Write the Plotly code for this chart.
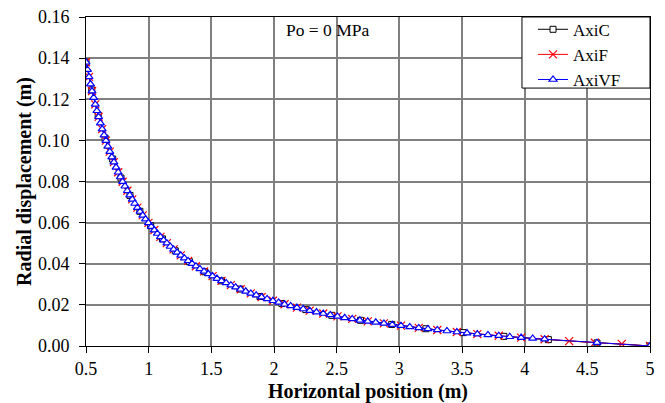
import plotly.graph_objects as go

# ---- data ----
axic_x = [0.500, 0.546, 0.597, 0.652, 0.713, 0.779, 0.851, 0.930, 1.016, 1.110,
          1.212, 1.325, 1.447, 1.581, 1.728, 1.888, 2.063, 2.254, 2.462, 2.690,
          2.939, 3.212, 3.509, 3.834, 4.189, 4.577, 5.000]
axic_y = [0.1380, 0.1245, 0.1123, 0.1011, 0.0909, 0.0817, 0.0732, 0.0655, 0.0585, 0.0521,
          0.0463, 0.0410, 0.0361, 0.0317, 0.0277, 0.0241, 0.0207, 0.0177, 0.0149, 0.0125,
          0.0105, 0.0084, 0.0065, 0.0047, 0.0031, 0.0015, 0.0000]

axif_x = [0.500, 0.524, 0.548, 0.574, 0.601, 0.629, 0.659, 0.690, 0.723, 0.757,
          0.792, 0.830, 0.869, 0.910, 0.953, 0.998, 1.045, 1.094, 1.145, 1.199,
          1.256, 1.315, 1.377, 1.442, 1.510, 1.581, 1.656, 1.734, 1.815, 1.901,
          1.991, 2.084, 2.183, 2.285, 2.393, 2.506, 2.624, 2.748, 2.877, 3.013,
          3.155, 3.303, 3.459, 3.622, 3.793, 3.972, 4.159, 4.355, 4.560, 4.775,
          5.000]
axif_y = [0.1380, 0.1309, 0.1240, 0.1175, 0.1114, 0.1055, 0.0999, 0.0945, 0.0894, 0.0845,
          0.0799, 0.0755, 0.0713, 0.0673, 0.0635, 0.0599, 0.0564, 0.0531, 0.0500, 0.0470,
          0.0441, 0.0414, 0.0388, 0.0363, 0.0340, 0.0317, 0.0296, 0.0276, 0.0256, 0.0238,
          0.0220, 0.0203, 0.0187, 0.0172, 0.0158, 0.0144, 0.0132, 0.0120, 0.0110, 0.0099,
          0.0088, 0.0078, 0.0068, 0.0058, 0.0050, 0.0041, 0.0033, 0.0024, 0.0016, 0.0010,
          0.0000]

axivf_x = [0.500, 0.512, 0.524, 0.536, 0.548, 0.561, 0.574, 0.587, 0.601, 0.615,
           0.629, 0.644, 0.659, 0.674, 0.690, 0.706, 0.723, 0.740, 0.757, 0.774,
           0.792, 0.811, 0.830, 0.849, 0.869, 0.889, 0.910, 0.931, 0.953, 0.975,
           0.998, 1.021, 1.045, 1.069, 1.094, 1.119, 1.145, 1.172, 1.199, 1.227,
           1.256, 1.285, 1.315, 1.346, 1.377, 1.409, 1.442, 1.476, 1.510, 1.545,
           1.581, 1.618, 1.656, 1.694, 1.734, 1.774, 1.815, 1.858, 1.901, 1.945,
           1.991, 2.037, 2.084, 2.133, 2.183, 2.233, 2.285, 2.339, 2.393, 2.449,
           2.506, 2.564, 2.624, 2.685, 2.748, 2.812, 2.877, 2.944, 3.013, 3.083,
           3.155, 3.228, 3.303, 3.380, 3.459, 3.540, 3.622, 3.707, 3.793, 3.881,
           3.972, 4.064, 4.159, 4.577, 5.000]
axivf_y = [0.1380, 0.1344, 0.1309, 0.1274, 0.1240, 0.1208, 0.1175, 0.1144, 0.1114, 0.1084,
           0.1055, 0.1026, 0.0999, 0.0971, 0.0945, 0.0919, 0.0894, 0.0869, 0.0845, 0.0822,
           0.0799, 0.0777, 0.0755, 0.0734, 0.0713, 0.0693, 0.0673, 0.0654, 0.0635, 0.0617,
           0.0599, 0.0581, 0.0564, 0.0547, 0.0531, 0.0515, 0.0500, 0.0484, 0.0470, 0.0455,
           0.0441, 0.0427, 0.0414, 0.0401, 0.0388, 0.0375, 0.0363, 0.0351, 0.0340, 0.0328,
           0.0317, 0.0307, 0.0296, 0.0286, 0.0276, 0.0266, 0.0256, 0.0247, 0.0238, 0.0229,
           0.0220, 0.0212, 0.0203, 0.0195, 0.0187, 0.0180, 0.0172, 0.0165, 0.0158, 0.0151,
           0.0144, 0.0137, 0.0132, 0.0125, 0.0120, 0.0115, 0.0110, 0.0104, 0.0099, 0.0093,
           0.0088, 0.0083, 0.0078, 0.0073, 0.0068, 0.0063, 0.0058, 0.0054, 0.0050, 0.0045,
           0.0041, 0.0037, 0.0033, 0.0016, 0.0000]

series_names = ["AxiC", "AxiF", "AxiVF"]
x_ticks = [0.5, 1, 1.5, 2, 2.5, 3, 3.5, 4, 4.5, 5]
y_ticks = [0.00, 0.02, 0.04, 0.06, 0.08, 0.10, 0.12, 0.14, 0.16]
note_text = "Po = 0 MPa"

FONT = "Liberation Serif, Times New Roman, serif"

fig = go.Figure()
fig.add_trace(go.Scatter(
    x=axic_x, y=axic_y, name=series_names[0], mode="lines+markers",
    line=dict(color="black", width=1),
    marker=dict(symbol="square", size=6, color="white",
                line=dict(color="black", width=1))))
fig.add_trace(go.Scatter(
    x=axif_x, y=axif_y, name=series_names[1], mode="lines+markers",
    line=dict(color="red", width=1),
    marker=dict(symbol="x-thin-open", size=8, color="red",
                line=dict(color="red", width=1.2))))
fig.add_trace(go.Scatter(
    x=axivf_x, y=axivf_y, name=series_names[2], mode="lines+markers",
    line=dict(color="blue", width=1),
    marker=dict(symbol="triangle-up", size=7, color="white",
                line=dict(color="blue", width=1.2))))

shapes = [dict(type="line", xref="x", yref="y", x0=v, x1=v, y0=0, y1=0.16,
               line=dict(color="black", width=1), layer="below")
          for v in (2, 3.5)]
# legend frame
shapes.append(dict(type="rect", xref="paper", yref="paper",
                   x0=0.773, x1=1.0, y0=0.784, y1=1.0,
                   line=dict(color="black", width=1), fillcolor="white",
                   layer="above"))

fig.update_layout(
    width=665, height=403,
    margin=dict(l=86, r=15, t=17, b=57, autoexpand=False),
    paper_bgcolor="white", plot_bgcolor="white",
    font=dict(family=FONT, size=18, color="black"),
    legend=dict(x=0.7926, y=1.016, xanchor="left", yanchor="top",
                bgcolor="rgba(0,0,0,0)", borderwidth=0,
                font=dict(family=FONT, size=17, color="black"),
                itemwidth=30, tracegroupgap=0),
    annotations=[dict(text=note_text, x=2.08, y=0.1535, xref="x", yref="y",
                      xanchor="left", yanchor="middle", showarrow=False,
                      font=dict(family=FONT, size=17.5, color="black"))],
    shapes=shapes,
)

fig.update_xaxes(
    range=[0.5, 5], tickmode="array", tickvals=x_ticks,
    ticktext=[f"{v:g}" for v in x_ticks], automargin=False,
    showgrid=True, gridcolor="rgb(128,128,128)", gridwidth=2,
    zeroline=False, showline=True, linecolor="black", linewidth=1, mirror=True,
    ticks="outside", ticklen=6, tickcolor="black", tickwidth=1,
    tickfont=dict(family=FONT, size=18, color="black"),
    title=dict(text="Horizontal position (m)", standoff=9,
               font=dict(family=FONT, size=20, color="black", weight="bold")))
fig.update_yaxes(
    range=[0, 0.16], tickmode="array", tickvals=y_ticks,
    ticktext=[f"{v:.2f}" for v in y_ticks], automargin=False,
    ticklabelstandoff=6,
    showgrid=True, gridcolor="rgb(128,128,128)", gridwidth=2,
    zeroline=False, showline=True, linecolor="black", linewidth=1, mirror=True,
    ticks="outside", ticklen=6, tickcolor="black", tickwidth=1,
    tickfont=dict(family=FONT, size=18, color="black"),
    title=dict(text="Radial displacement (m)", standoff=0,
               font=dict(family=FONT, size=20, color="black", weight="bold")))

fig.write_html(
    "out.html",
    config={"displayModeBar": False},
    post_script="document.body.style.margin='0';document.body.style.overflow='hidden';")
